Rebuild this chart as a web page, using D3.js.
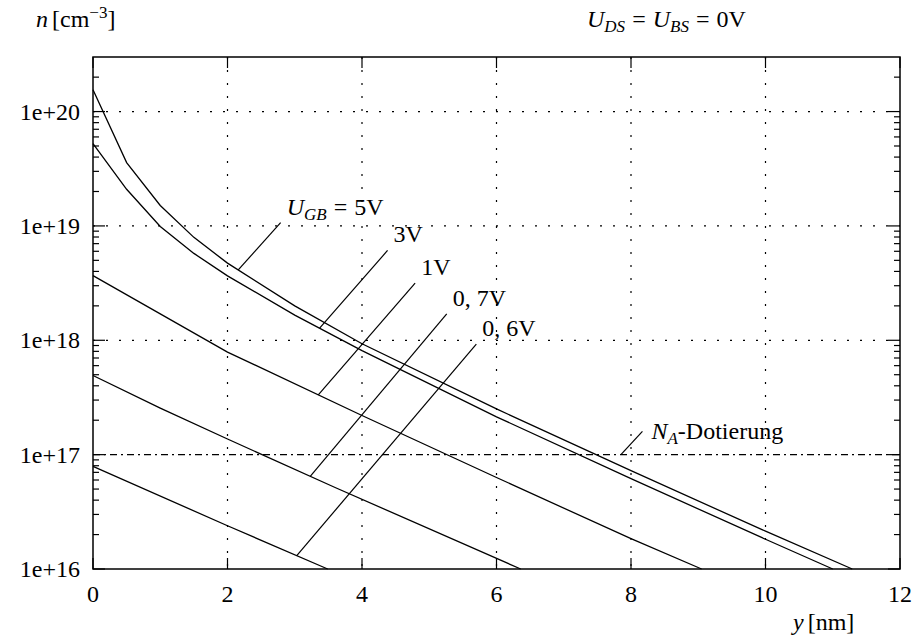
<!DOCTYPE html>
<html>
<head>
<script src="https://d3js.org/d3.v7.min.js"></script>
<style>
body {margin: 0; background: #fff;}
.chart text {font-family: "Liberation Serif", "Times New Roman", serif; font-size: 24px; fill: #000;}
</style>
</head>
<body>
<svg class="chart" width="915" height="639"></svg>
<script>
// curves: position y [nm] and electron density n [cm^-3]
var pos5V = [0, 0.5, 1, 1.5, 2, 3, 4, 6, 8, 10, 11.29];
var n5V = [1.55e20, 3.58e19, 1.51e19, 7.94e18, 4.73e18, 2.0e18, 9.33e17, 2.51e17, 7.24e16, 2.14e16, 1e16];
var pos3V = [0, 0.5, 1, 1.5, 2, 3, 4, 6, 8, 10, 11.0];
var n3V = [5.25e19, 2.09e19, 9.89e18, 5.75e18, 3.66e18, 1.66e18, 8.13e17, 2.14e17, 6.17e16, 1.82e16, 1e16];
var pos1V = [0, 1, 2, 4, 6, 8, 9.05];
var n1V = [3.68e18, 1.70e18, 7.89e17, 2.20e17, 6.31e16, 1.84e16, 1e16];
var pos07V = [0, 1, 2, 3.6, 6.36];
var n07V = [4.92e17, 2.55e17, 1.37e17, 5.16e16, 1e16];
var pos06V = [0, 2, 3.49];
var n06V = [7.89e16, 2.39e16, 1e16];

var curveLabels = ["5V", "3V", "1V", "0, 7V", "0, 6V"];
var dopingN = 1e17;

var xTicks = [0, 2, 4, 6, 8, 10, 12];
var yTicks = [1e16, 1e17, 1e18, 1e19, 1e20];
var yTickLabels = ["1e+16", "1e+17", "1e+18", "1e+19", "1e+20"];

var curves = [[pos5V, n5V], [pos3V, n3V], [pos1V, n1V], [pos07V, n07V], [pos06V, n06V]];

// where the label leaders touch the curves and where they end (data units)
var leaderStart = [2.16, 3.37, 3.35, 3.23, 3.03];
var leaderEnd = [[2.79, 1.07e19], [4.38, 6.1e18], [4.79, 3.16e18], [5.26, 1.7e18], [5.70, 9.27e17]];
var dopingLeader = [[7.85, 1e17], [8.17, 1.6e17]];

var margin = {top: 57, right: 15, bottom: 70, left: 93};
var width = 915 - margin.left - margin.right,
    height = 639 - margin.top - margin.bottom;

var x = d3.scaleLinear().domain([0, 12]).range([0, width]);
var y = d3.scaleLog().domain([1e16, 3e20]).range([height, 0]);

var svg = d3.select(".chart");
var g = svg.append("g").attr("transform", "translate(" + margin.left + "," + margin.top + ")");

function nAt(xs, ns, px) {
    for (var i = 0; i < xs.length - 1; i++) {
        if (px >= xs[i] && px <= xs[i + 1]) {
            var t = (px - xs[i]) / (xs[i + 1] - xs[i]);
            return Math.pow(10, Math.log10(ns[i]) + t * (Math.log10(ns[i + 1]) - Math.log10(ns[i])));
        }
    }
    return ns[ns.length - 1];
}

// italic symbol with subscript; the caller shifts back up with dy -5
function sym(t, main, sub, dx) {
    t.append("tspan").attr("font-style", "italic").attr("dx", dx || 0).text(main);
    t.append("tspan").attr("font-style", "italic").attr("font-size", "17px").attr("dy", 5).text(sub);
}

// grid
g.selectAll(".vgrid").data(xTicks.slice(1, -1)).enter().append("line")
    .attr("x1", d => x(d)).attr("x2", d => x(d))
    .attr("y1", 0).attr("y2", height)
    .attr("stroke", "#000").attr("stroke-width", 1.2).attr("stroke-dasharray", "2,11");
g.selectAll(".hgrid").data([1e18, 1e19, 1e20]).enter().append("line")
    .attr("x1", 0).attr("x2", width)
    .attr("y1", d => y(d)).attr("y2", d => y(d))
    .attr("stroke", "#000").attr("stroke-width", 1.2).attr("stroke-dasharray", "2,11");

// doping line
g.append("line")
    .attr("x1", 0).attr("x2", width)
    .attr("y1", y(dopingN)).attr("y2", y(dopingN))
    .attr("stroke", "#000").attr("stroke-width", 1.2).attr("stroke-dasharray", "7,4,2,4");

// curves
var line = d3.line().x(d => x(d[0])).y(d => y(d[1]));
curves.forEach(function(c) {
    g.append("path")
        .datum(c[0].map((p, i) => [p, c[1][i]]))
        .attr("d", line)
        .attr("fill", "none").attr("stroke", "#000").attr("stroke-width", 1.3);
});

// leaders and labels
curves.forEach(function(c, i) {
    var sx = leaderStart[i], sn = nAt(c[0], c[1], sx);
    var ex = x(leaderEnd[i][0]), ey = y(leaderEnd[i][1]);
    g.append("line")
        .attr("x1", x(sx)).attr("y1", y(sn)).attr("x2", ex).attr("y2", ey)
        .attr("stroke", "#000").attr("stroke-width", 1.2);
    var t = g.append("text").attr("x", ex + 6).attr("y", ey - 8);
    if (i == 0) {
        sym(t, "U", "GB");
        t.append("tspan").attr("dy", -5).attr("dx", 7).text("=");
        t.append("tspan").attr("dx", 7).text(curveLabels[i]);
    } else {
        t.text(curveLabels[i]);
    }
});

g.append("line")
    .attr("x1", x(dopingLeader[0][0])).attr("y1", y(dopingLeader[0][1]))
    .attr("x2", x(dopingLeader[1][0])).attr("y2", y(dopingLeader[1][1]))
    .attr("stroke", "#000").attr("stroke-width", 1.2);
var nt = g.append("text").attr("x", x(dopingLeader[1][0]) + 9).attr("y", y(dopingLeader[1][1]) + 8);
sym(nt, "N", "A");
nt.append("tspan").attr("dy", -5).text("-Dotierung");

// ticks
var minor = [];
for (var e = 16; e <= 20; e++) {
    for (var m = 2; m <= 9; m++) {
        var v = m * Math.pow(10, e);
        if (v < 3e20) minor.push(v);
    }
}
[0, width].forEach(function(side) {
    var dir = side == 0 ? 1 : -1;
    g.selectAll(null).data(minor).enter().append("line")
        .attr("x1", side).attr("x2", side + dir * 6)
        .attr("y1", d => y(d)).attr("y2", d => y(d))
        .attr("stroke", "#000").attr("stroke-width", 1.2);
    g.selectAll(null).data(yTicks).enter().append("line")
        .attr("x1", side).attr("x2", side + dir * 12)
        .attr("y1", d => y(d)).attr("y2", d => y(d))
        .attr("stroke", "#000").attr("stroke-width", 1.2);
});
[0, height].forEach(function(side) {
    var dir = side == 0 ? 1 : -1;
    g.selectAll(null).data(xTicks).enter().append("line")
        .attr("x1", d => x(d)).attr("x2", d => x(d))
        .attr("y1", side).attr("y2", side + dir * 11)
        .attr("stroke", "#000").attr("stroke-width", 1.2);
});

// border
g.append("rect").attr("x", 0).attr("y", 0).attr("width", width).attr("height", height)
    .attr("fill", "none").attr("stroke", "#000").attr("stroke-width", 1.5);

// tick labels
g.selectAll(".xlab").data(xTicks).enter().append("text")
    .attr("x", d => x(d)).attr("y", height + 33)
    .attr("text-anchor", "middle").text(d => d);
g.selectAll(".ylab").data(yTicks).enter().append("text")
    .attr("x", -13).attr("y", d => y(d) + 8)
    .attr("text-anchor", "end").text((d, i) => yTickLabels[i]);

// axis titles
var yt = svg.append("text").attr("x", 36).attr("y", 27);
yt.append("tspan").attr("font-style", "italic").text("n");
yt.append("tspan").attr("dx", 4).text("[cm");
yt.append("tspan").attr("font-size", "17px").attr("dy", -9).text("\u22123");
yt.append("tspan").attr("dy", 9).text("]");

var xt = svg.append("text").attr("x", 793).attr("y", 630);
xt.append("tspan").attr("font-style", "italic").text("y");
xt.append("tspan").attr("dx", 4).text("[nm]");

var tt = svg.append("text").attr("x", 587).attr("y", 27);
sym(tt, "U", "DS");
tt.append("tspan").attr("dy", -5).attr("dx", 7).text("=");
sym(tt, "U", "BS", 7);
tt.append("tspan").attr("dy", -5).attr("dx", 7).text("=");
tt.append("tspan").attr("dx", 7).text("0V");
</script>
</body>
</html>
